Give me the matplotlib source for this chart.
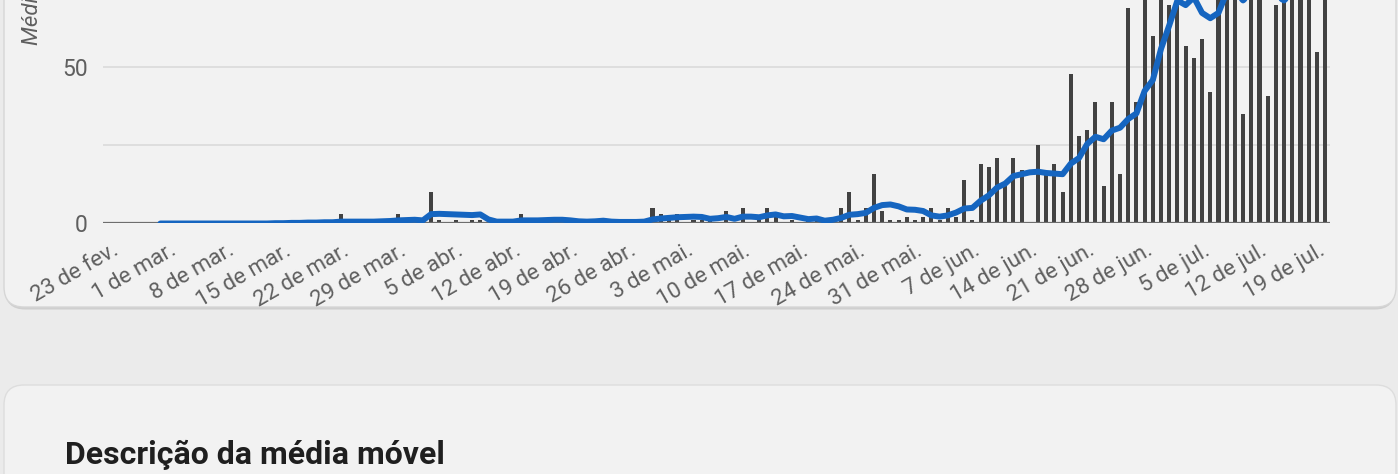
import numpy as np
import matplotlib
matplotlib.use("Agg")
import matplotlib.pyplot as plt
from matplotlib.patches import FancyBboxPatch
from matplotlib.transforms import ScaledTranslation

plt.rcParams['font.family'] = ['Roboto', 'DejaVu Sans']

# =========================
# データ (dia 0 = 23 de fev.)
# =========================
tick_days = list(range(0, 148, 7))
tick_labels = ["23 de fev.", "1 de mar.", "8 de mar.", "15 de mar.", "22 de mar.",
               "29 de mar.", "5 de abr.", "12 de abr.", "19 de abr.", "26 de abr.",
               "3 de mai.", "10 de mai.", "17 de mai.", "24 de mai.", "31 de mai.",
               "7 de jun.", "14 de jun.", "21 de jun.", "28 de jun.", "5 de jul.",
               "12 de jul.", "19 de jul."]

# mortes diárias (barras)
bar_days = [29, 36, 40, 41, 43, 45, 46, 51, 61, 67, 68, 69, 70, 72, 73, 74, 76, 78,
            80, 81, 82, 84, 86, 87, 90, 91, 92, 93, 94, 95, 96, 97, 98, 99, 100,
            101, 102, 103, 104, 105, 106, 107, 108, 109, 110, 111, 112, 114, 115,
            116, 117, 118, 119, 120, 121, 122, 123, 124, 125, 126, 127, 128, 129,
            130, 131, 132, 133, 134, 135, 136, 137, 138, 139, 140, 141, 142, 143,
            144, 145, 146, 147, 148, 149]
bar_values = [3, 3, 10, 1, 1, 1, 1, 3, 1, 5, 3, 1, 3, 1, 1, 1, 4, 5,
              1, 5, 2, 1, 1, 1, 5, 10, 1, 5, 16, 4, 1, 1, 2, 1, 2,
              5, 1, 5, 2, 14, 1, 19, 18, 21, 12, 21, 17, 25, 16,
              19, 10, 48, 28, 30, 39, 12, 39, 16, 69, 39, 85, 60, 88,
              70, 93, 57, 53, 59, 42, 95, 100, 92, 35, 90, 98, 41, 70,
              96, 88, 101, 84, 55, 80]

# média móvel (linha)
avg_days = list(range(7, 150))
avg_values = [0.0] * 14 + [
    0.1, 0.1, 0.2, 0.2, 0.3, 0.3,                        # d21-26
    0.4, 0.4, 0.6, 0.6, 0.6, 0.6, 0.6, 0.7, 0.8,         # d27-35
    1.0, 1.1, 1.2, 1.0, 3.0, 3.1, 3.0, 2.9, 2.8, 2.7,    # d36-45
    2.9, 1.3, 0.6, 0.6, 0.6, 1.0, 1.0, 1.0, 1.1, 1.2,    # d46-55
    1.2, 1.0, 0.7, 0.6, 0.7, 0.9, 0.6, 0.5, 0.5, 0.5,    # d56-65
    0.6, 1.3, 1.6, 1.8, 2.0, 2.1, 2.2, 2.1, 1.5, 1.7,    # d66-75
    2.1, 1.5, 2.2, 2.2, 2.0, 2.6, 2.9, 2.3, 2.4, 1.9,    # d76-85
    1.4, 1.6, 0.9, 1.2, 1.8, 2.8, 3.0, 3.4, 5.0, 5.9,    # d86-95
    6.1, 5.5, 4.5, 4.4, 4.0, 2.6, 2.2, 2.6, 3.5, 4.8,    # d96-105
    5.0, 7.3, 9.0, 11.5, 12.8, 15.2, 15.8, 16.4, 16.6, 16.2,  # d106-115
    16.0, 15.8, 19.2, 21.0, 25.5, 27.8, 27.0, 29.8, 30.7, 33.5,  # d116-125
    35.3, 42.5, 46.0, 56.0, 63.5, 71.5, 70.0, 72.5, 67.5, 65.8,  # d126-135
    67.5, 74.0, 74.5, 71.5, 74.0, 76.0, 76.0, 73.0, 71.5, 74.0,  # d136-145
    76.0, 77.0, 77.0, 78.0]                               # d146-149

y_ticks = [0, 50, 100]
grid_values = [25, 50, 75]

# =========================
# 図
# =========================
W, H = 1398, 474
fig = plt.figure(figsize=(W / 100, H / 100), dpi=100)
fig.patch.set_facecolor('#ebebeb')
inch = fig.dpi_scale_trans

# cards (pixel -> inch)
shadow1 = FancyBboxPatch((0.05, 1.645), 13.90, 4.0, boxstyle="round,pad=0,rounding_size=0.2",
                         transform=inch, facecolor='#cfcfcf', edgecolor='none', zorder=-3)
card1 = FancyBboxPatch((0.04, 1.67), 13.92, 4.0, boxstyle="round,pad=0,rounding_size=0.2",
                       transform=inch, facecolor='#f2f2f2', edgecolor='#d6d6d6', lw=1, zorder=-2)
card2 = FancyBboxPatch((0.04, -1.0), 13.92, 1.89, boxstyle="round,pad=0,rounding_size=0.2",
                       transform=inch, facecolor='#f2f2f2', edgecolor='#dddddd', lw=1, zorder=-2)
for p in (shadow1, card1, card2):
    fig.patches.append(p)

ax = fig.add_axes([103 / W, (H - 223.5) / H, 1227 / W, 312 / H])
ax.set_zorder(5)
ax.set_facecolor('none')
ax.set_xlim(0, 149.6)
ax.set_ylim(0, 100)

for v in grid_values:
    ax.axhline(v, color='#dadada', lw=1.2, zorder=0)

ax.bar(bar_days, bar_values, width=0.5, color='#424242', zorder=2)
ax.plot(avg_days, avg_values, color='#1565c0', lw=4.3, solid_capstyle='round',
        solid_joinstyle='round', zorder=4)
ax.axhline(0, color='#6e6e6e', lw=1.6, zorder=3)

for s in ax.spines.values():
    s.set_visible(False)

ax.set_yticks(y_ticks)
ax.set_yticklabels([str(v) for v in y_ticks], fontsize=16.5, color='#5f5f5f')
ax.tick_params(axis='y', length=0, pad=11)

ax.set_xticks(tick_days)
ax.set_xticklabels(tick_labels, rotation=30, ha='right', rotation_mode='anchor',
                   fontsize=16, color='#5f5f5f')
ax.tick_params(axis='x', length=0, pad=12)
offset = ScaledTranslation(9 / 100, 0, fig.dpi_scale_trans)
for lab in ax.get_xticklabels():
    lab.set_transform(lab.get_transform() + offset)

fig.text(32 / W, 1 - 45 / H, "Média móvel de mortes", rotation=90, rotation_mode='anchor',
         ha='left', va='center', fontsize=16, style='italic', color='#5f5f5f')

fig.text(65 / W, 1 - 464 / H, "Descrição da média móvel", fontsize=23,
         fontweight='bold', color='#1f1f1f', ha='left', va='baseline')

fig.savefig("out.png", dpi=100, facecolor=fig.get_facecolor())
